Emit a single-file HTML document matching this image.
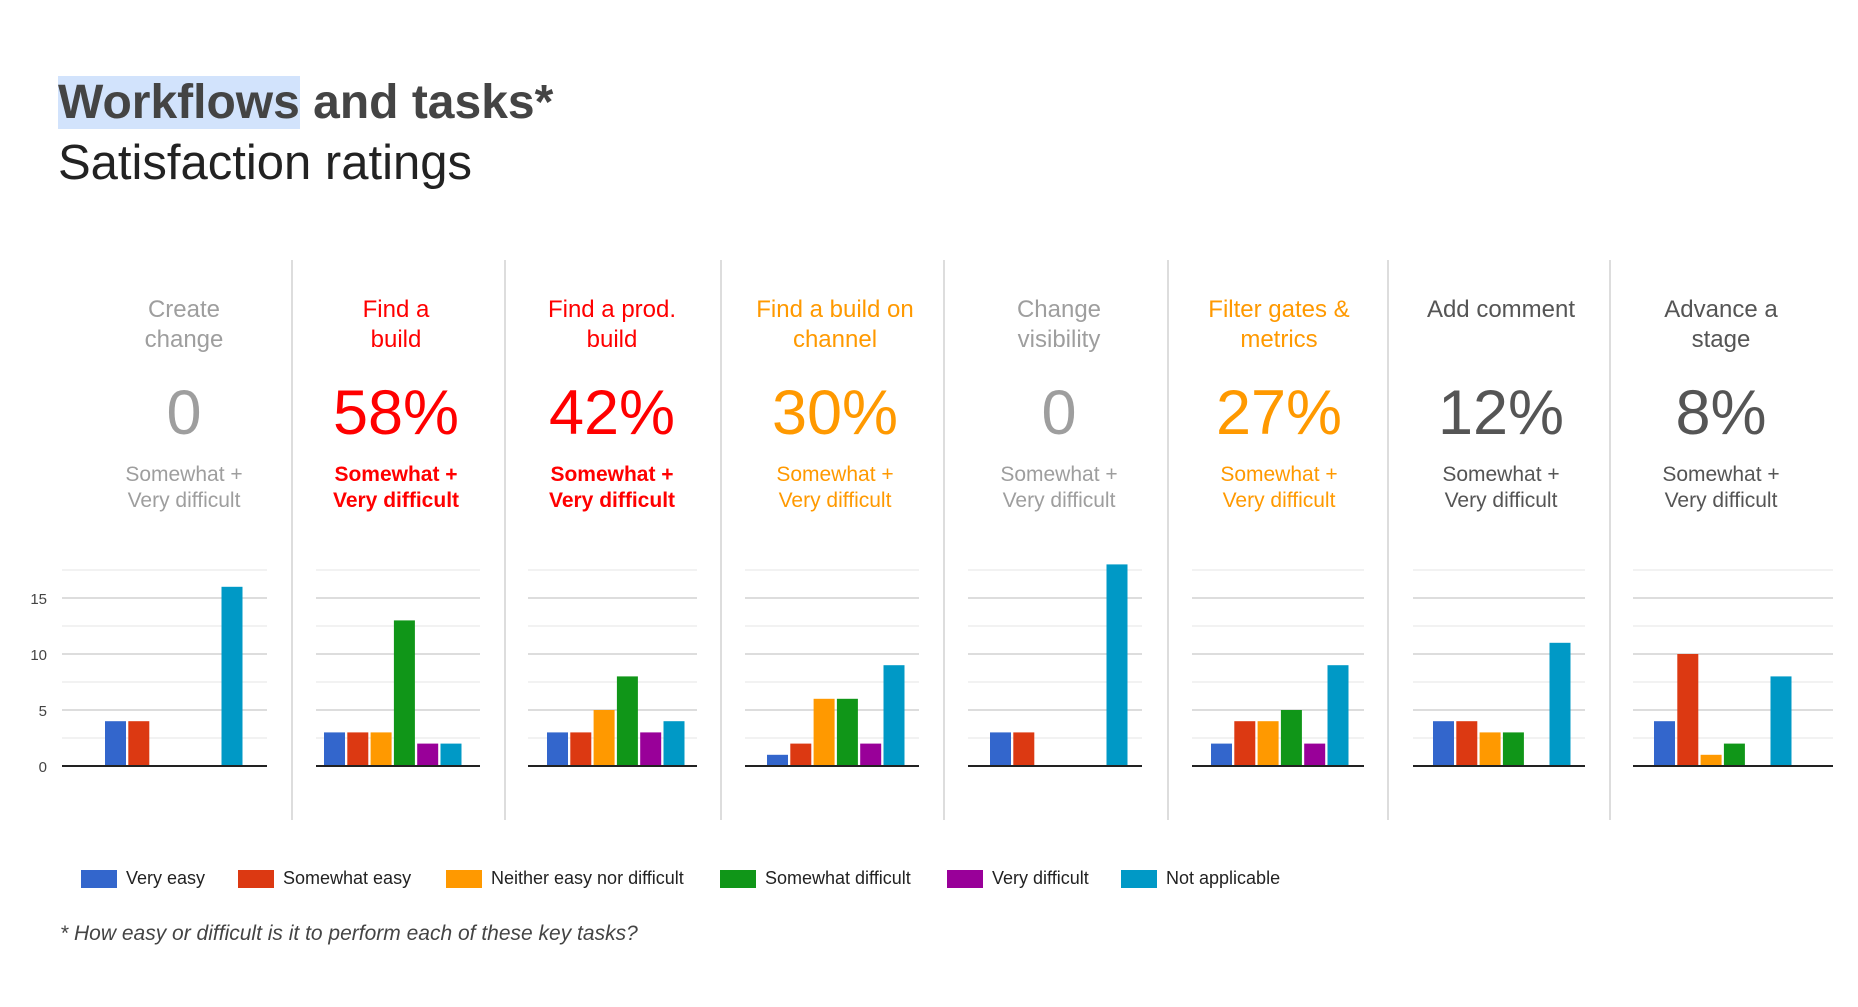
<!DOCTYPE html>
<html><head><meta charset="utf-8">
<style>
body{margin:0;width:1858px;height:1007px;background:#fff;overflow:hidden;font-family:"Liberation Sans",sans-serif;position:relative}
.abs{position:absolute}
.t1{left:58px;top:72px;font-size:48px;font-weight:bold;color:#444;line-height:62px}
.t1 span{background:#d2e3fc}
.t2{left:58px;top:131px;font-size:49px;color:#222;line-height:64px}
.col{position:absolute;top:295px;width:220px;text-align:center}
.cat{font-size:24px;line-height:30px;height:60px}
.big{font-size:63px;line-height:80px;margin-top:18px}
.sub{font-size:21px;line-height:26px;margin-top:9px}
.div{position:absolute;top:260px;width:2px;height:560px;background:#ddd}
.leg{position:absolute;top:868px;font-size:18px;color:#222;display:flex;align-items:center}
.leg i{display:inline-block;width:36px;height:18px;margin-right:9px}
.foot{left:60px;top:922px;font-size:21px;font-style:italic;color:#444}
</style></head><body>
<div class="abs t1"><span>Workflows</span> and tasks*</div>
<div class="abs t2">Satisfaction ratings</div>
<div id="cols"></div>
<svg id="chart" class="abs" style="left:0;top:0" width="1858" height="1007"></svg>
<div id="legend"></div>
<div class="abs foot">* How easy or difficult is it to perform each of these key tasks?</div>
<script>
const tasks=["Create change","Find a build","Find a prod. build","Find a build on channel","Change visibility","Filter gates & metrics","Add comment","Advance a stage"];
const taskLines=[["Create","change"],["Find a","build"],["Find a prod.","build"],["Find a build on","channel"],["Change","visibility"],["Filter gates &","metrics"],["Add comment",""],["Advance a","stage"]];
const pctLabels=["0","58%","42%","30%","0","27%","12%","8%"];
const seriesNames=["Very easy","Somewhat easy","Neither easy nor difficult","Somewhat difficult","Very difficult","Not applicable"];
const veryEasy=[4,3,3,1,3,2,4,4];
const somewhatEasy=[4,3,3,2,3,4,4,10];
const neither=[0,3,5,6,0,4,3,1];
const somewhatDifficult=[0,13,8,6,0,5,3,2];
const veryDifficult=[0,2,3,2,0,2,0,0];
const notApplicable=[16,2,4,9,18,9,11,8];
const yTicks=[0,5,10,15];
const series=[veryEasy,somewhatEasy,neither,somewhatDifficult,veryDifficult,notApplicable];
const colors=["#3366cc","#dc3912","#ff9900","#109618","#990099","#0099c6"];
const textColors=["#9e9e9e","#ff0000","#ff0000","#ff9900","#9e9e9e","#ff9900","#555","#555"];
const centers=[184,396,612,835,1059,1279,1501,1721];
const chartL=[62,316,528,745,968,1192,1413,1633];
const chartR=[267,480,697,919,1142,1364,1585,1833];
const barStart=[105,324,547,767,990,1211,1433,1654];
const dividers=[291,504,720,943,1167,1387,1609];
const base=766, unit=11.2, step=23.3, bw=21;
const y=v=>base-v*unit;
const NS="http://www.w3.org/2000/svg";
const svg=document.getElementById('chart');
const cols=document.getElementById('cols');
dividers.forEach(x=>{const d=document.createElement('div');d.className='div';d.style.left=x+'px';


cols.appendChild(d);});
tasks.forEach((t,i)=>{
 const c=document.createElement('div');c.className='col';c.style.left=(centers[i]-110)+'px';c.style.color=textColors[i];
 
 
 const bold=(i==1||i==2)?'font-weight:bold;':'';
 c.innerHTML='<div class="cat">'+taskLines[i][0]+'<br>'+taskLines[i][1]+'</div><div class="big">'+pctLabels[i]+'</div><div class="sub" style="'+bold+'">Somewhat +<br>Very difficult</div>';
 cols.appendChild(c);
 for(let g=0;g<=17.5;g+=2.5){const l=document.createElementNS(NS,'line');
  l.setAttribute('x1',chartL[i]);l.setAttribute('x2',chartR[i]);l.setAttribute('y1',y(g));l.setAttribute('y2',y(g));
  l.setAttribute('stroke',g%5==0?'#ddd':'#eee');l.setAttribute('stroke-width',g%5==0?2:1.5);
  
  
  svg.appendChild(l);}
 series.forEach((s,k)=>{const v=s[i];if(!v)return;const r=document.createElementNS(NS,'rect');
  r.setAttribute('x',barStart[i]+k*step);r.setAttribute('y',y(v));r.setAttribute('width',bw);r.setAttribute('height',v*unit);r.setAttribute('fill',colors[k]);
  
  
  svg.appendChild(r);});
 const b=document.createElementNS(NS,'line');b.setAttribute('x1',chartL[i]);b.setAttribute('x2',chartR[i]);b.setAttribute('y1',base);b.setAttribute('y2',base);b.setAttribute('stroke','#222');b.setAttribute('stroke-width',2);
 
 
 svg.appendChild(b);
});
yTicks.forEach(v=>{const t=document.createElementNS(NS,'text');t.setAttribute('x',47);t.setAttribute('y',y(v)+6);t.setAttribute('text-anchor','end');t.setAttribute('font-size','15');t.setAttribute('fill','#444');t.setAttribute('font-family','Liberation Sans');t.textContent=v;
 
 
 svg.appendChild(t);});
const legX=[81,238,446,720,947,1121];
const lg=document.getElementById('legend');
seriesNames.forEach((n,k)=>{const d=document.createElement('div');d.className='leg';d.style.left=legX[k]+'px';
 d.innerHTML='<i style="background:'+colors[k]+'"></i>'+n;
 
 
 lg.appendChild(d);});
</script>
</body></html>
